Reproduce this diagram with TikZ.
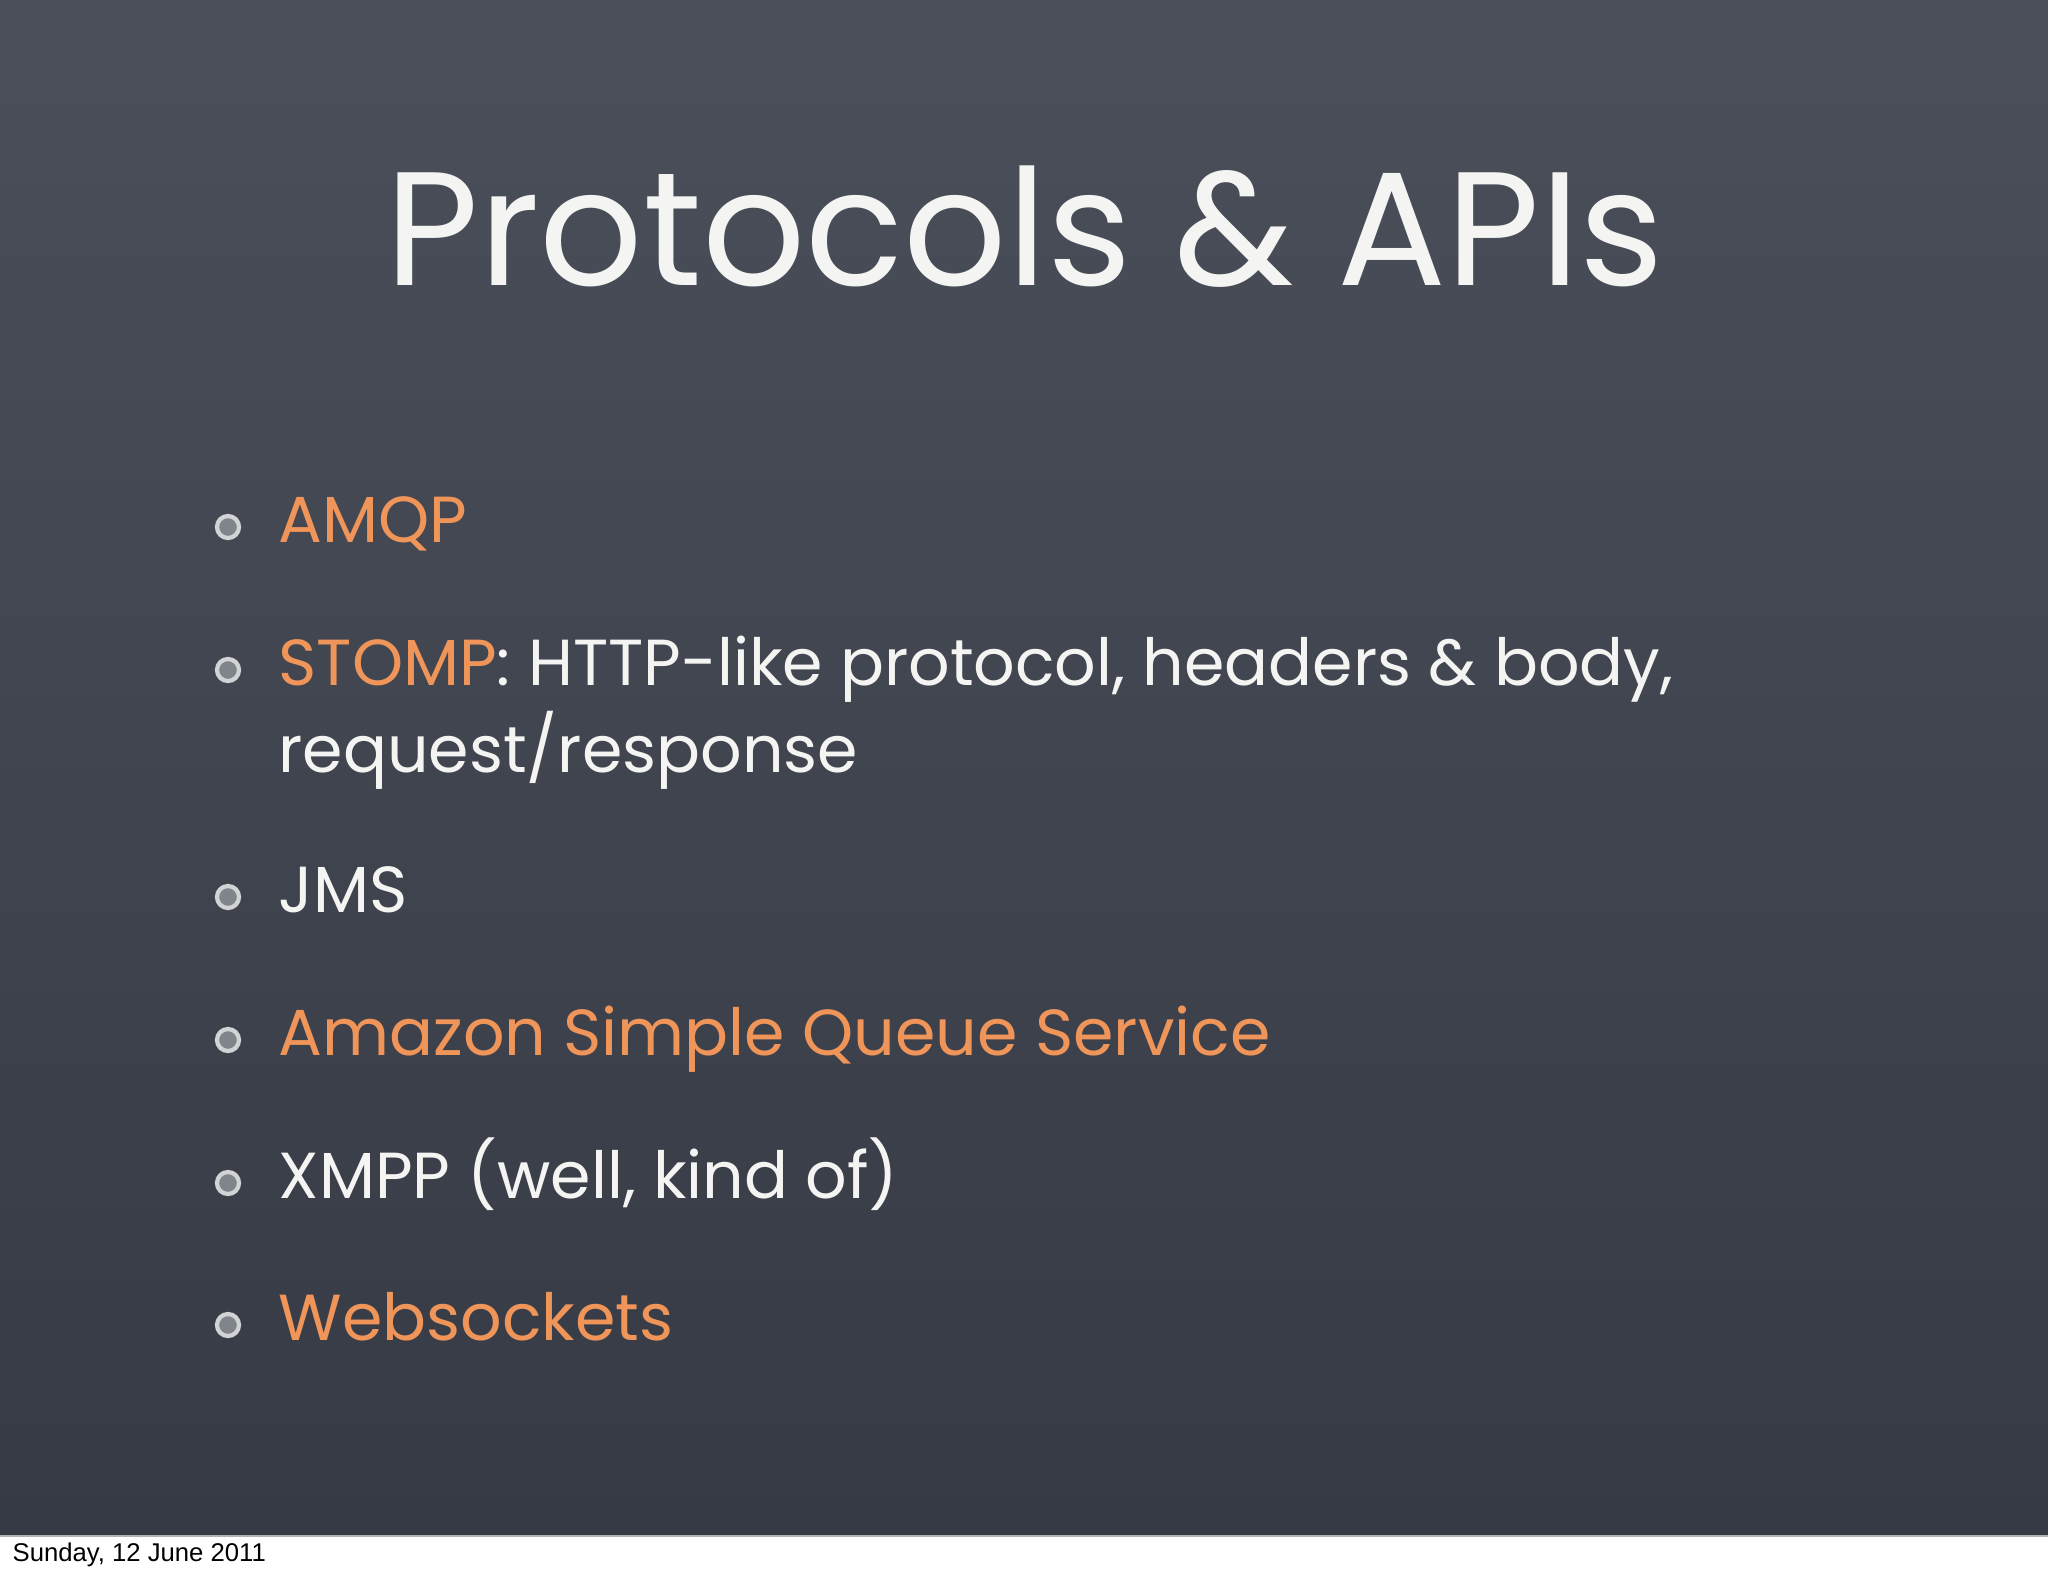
\documentclass[tikz,border=0pt]{standalone}
\usepackage{fontspec}
\setmainfont{Poppins}
\newfontfamily\footfont{Liberation Sans}
\definecolor{board}{HTML}{4A4F5A}
\definecolor{boarddark}{HTML}{363A44}
\definecolor{chalkorange}{HTML}{F0955A}
\definecolor{chalkwhite}{HTML}{F4F4F2}
\tikzset{
  item/.style={anchor=base west, font=\fontsize{18.5}{23}\selectfont, text=chalkwhite, inner sep=0pt},
  bul/.style={circle, draw=chalkwhite!80!board, line width=1.2pt, minimum size=0.22cm, inner sep=0pt, fill=board!70!white}
}
\begin{document}
\begin{tikzpicture}[x=0.01cm,y=-0.01cm]
\useasboundingbox (0,0) rectangle (2048,1576);
\shade[top color=board, bottom color=boarddark] (0,0) rectangle (2048,1536);
\fill[white] (0,1536) rectangle (2048,1576);
\draw[gray!60] (0,1536) -- (2048,1536);
\node[anchor=base west, font=\footfont\fontsize{7.3}{9}\selectfont, inner sep=0pt] (foot) at (12,1561) {Sunday, 12 June 2011};
\node[anchor=base, font=\fontsize{46}{50}\selectfont, text=chalkwhite, inner sep=0pt] (title) at (1025,285) {Protocols \& APIs};
\node[bul] (b1) at (228,527) {};
\node[item] (t1) at (278,542) {\textcolor{chalkorange}{AMQP}};
\node[bul] (b2) at (228,670) {};
\node[item] (t2) at (278,685) {\textcolor{chalkorange}{STOMP}: HTTP-like protocol, headers \& body,};
\node[item] (t2b) at (278,772) {request/response};
\node[bul] (b3) at (228,897) {};
\node[item] (t3) at (278,912) {JMS};
\node[bul] (b4) at (228,1040) {};
\node[item] (t4) at (278,1055) {\textcolor{chalkorange}{Amazon Simple Queue Service}};
\node[bul] (b5) at (228,1183) {};
\node[item] (t5) at (278,1198) {XMPP (well, kind of)};
\node[bul] (b6) at (228,1325) {};
\node[item] (t6) at (278,1340) {\textcolor{chalkorange}{Websockets}};
\end{tikzpicture}
\end{document}
